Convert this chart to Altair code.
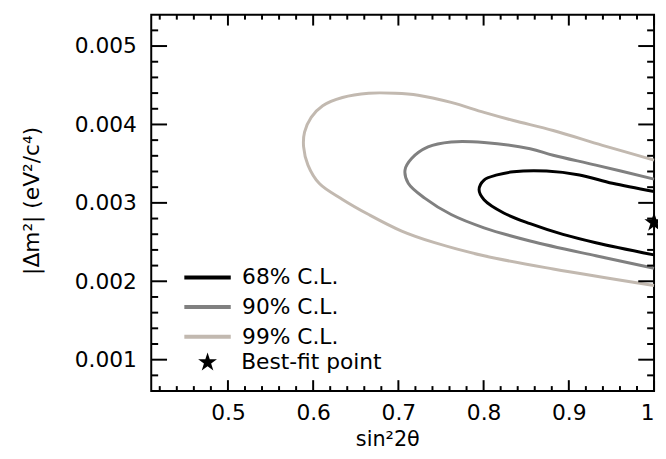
import altair as alt
import pandas as pd

# ---- data ----
levels = ["68% C.L.", "90% C.L.", "99% C.L."]
level_colors = ["#000000", "#808080", "#c2b9b0"]

x68 = [1.0, 0.9511, 0.9125, 0.8738, 0.835, 0.8159, 0.8005, 0.7947, 0.8005, 0.8236, 0.8546, 0.8931, 0.9317, 1.0]
y68 = [0.003145, 0.00325, 0.003356, 0.003406, 0.003397, 0.003356, 0.00329, 0.003166, 0.00304, 0.002871, 0.002735, 0.002598, 0.002492, 0.002337]

x90 = [1.0, 0.9317, 0.8816, 0.8546, 0.8005, 0.7619, 0.7348, 0.7155, 0.7078, 0.7116, 0.7309, 0.7619, 0.8005, 0.8546, 0.9317, 1.0]
y90 = [0.003303, 0.003482, 0.003608, 0.003691, 0.00377, 0.003776, 0.003713, 0.003565, 0.003419, 0.00325, 0.00306, 0.002851, 0.002682, 0.002514, 0.002325, 0.002167]

x99 = [1.0, 0.9395, 0.8816, 0.835, 0.8005, 0.7619, 0.7232, 0.6962, 0.6652, 0.6344, 0.6112, 0.5977, 0.5899, 0.5888, 0.5939, 0.6073, 0.6344, 0.6652, 0.7039, 0.7425, 0.8005, 0.8816, 1.0]
y99 = [0.003545, 0.003734, 0.003923, 0.00405, 0.004154, 0.004281, 0.004373, 0.004398, 0.004398, 0.004344, 0.004239, 0.004091, 0.003902, 0.003713, 0.003482, 0.003246, 0.003044, 0.002851, 0.00264, 0.002492, 0.002325, 0.002157, 0.001946]

best_fit_label = ["Best-fit point"]
best_fit_x = [1.0]
best_fit_y = [0.00275]

x_major = [0.5, 0.6, 0.7, 0.8, 0.9, 1.0]
x_minor = [0.42, 0.44, 0.46, 0.48, 0.52, 0.54, 0.56, 0.58, 0.62, 0.64, 0.66, 0.68,
           0.72, 0.74, 0.76, 0.78, 0.82, 0.84, 0.86, 0.88, 0.92, 0.94, 0.96, 0.98]
y_major = [0.001, 0.002, 0.003, 0.004, 0.005]
y_minor = [0.0008, 0.0012, 0.0014, 0.0016, 0.0018, 0.0022, 0.0024, 0.0026, 0.0028,
           0.0032, 0.0034, 0.0036, 0.0038, 0.0042, 0.0044, 0.0046, 0.0048, 0.0052]

# ---- build tables ----
rows = []
for lvl, xs, ys in zip(levels, [x68, x90, x99], [y68, y90, y99]):
    for i, (a, b) in enumerate(zip(xs, ys)):
        rows.append({"level": lvl, "x": a, "y": b, "order": i})
contours = pd.DataFrame(rows)
star_df = pd.DataFrame({"label": best_fit_label, "x": best_fit_x, "y": best_fit_y})

W, H = 509, 381
FONT = "DejaVu Sans"
STAR = ("M0,-1L0.2245,-0.309L0.9511,-0.309L0.3633,0.118L0.5878,0.809L0,0.382"
        "L-0.5878,0.809L-0.3633,0.118L-0.9511,-0.309L-0.2245,-0.309Z")

xscale = alt.Scale(domain=[0.41, 1.0], nice=False, zero=False)
yscale = alt.Scale(domain=[0.0006, 0.0054], nice=False, zero=False)

x_axis = alt.Axis(values=x_major, labelExpr="datum.value == 1 ? '1' : format(datum.value, '.1f')",
                  labelFontSize=22, labelPadding=12, labelOverlap=False, labelFlush=True,
                  title="sin²2θ", titleFontSize=21, titleFontWeight="normal",
                  titleX=239, titleY=55, titleBaseline="alphabetic", titleAlign="center")
y_axis = alt.Axis(values=y_major, format=".3f", labelFontSize=22, labelPadding=15,
                  labelOverlap=False, labelFlush=False,
                  title="|Δm²| (eV²/c⁴)", titleFontSize=22, titleFontWeight="normal",
                  titleX=-114, titleY=188, titleAngle=-90, titleBaseline="alphabetic",
                  titleAlign="center")

X = alt.X("x:Q", scale=xscale, axis=x_axis)
Y = alt.Y("y:Q", scale=yscale, axis=y_axis)

lines = alt.Chart(contours).mark_line(strokeWidth=3, interpolate="catmull-rom").encode(
    x=X,
    y=Y,
    color=alt.Color("level:N", scale=alt.Scale(domain=levels, range=level_colors),
                    legend=alt.Legend(title=None, orient="none", legendX=46, legendY=255,
                                      symbolType="M-4.7,0H4.7", symbolSize=100,
                                      symbolStrokeWidth=4, labelOffset=24, rowPadding=8)),
    order="order:Q",
)

star = alt.Chart(star_df).mark_point(filled=True, size=420, opacity=1, color="black").encode(
    x=X,
    y=Y,
    shape=alt.Shape("label:N", scale=alt.Scale(domain=best_fit_label, range=[STAR]),
                    legend=alt.Legend(title=None, orient="none", legendX=46, legendY=341,
                                      symbolSize=400, labelOffset=23,
                                      symbolFillColor="black", symbolStrokeColor="black")),
)


def xticks(vals, length):
    d = pd.DataFrame({"x": vals})
    bottom = alt.Chart(d).mark_rule(color="black", strokeWidth=2).encode(
        x=X, y=alt.value(H), y2=alt.value(H - length))
    top = alt.Chart(d).mark_rule(color="black", strokeWidth=2).encode(
        x=X, y=alt.value(0), y2=alt.value(length))
    return [bottom, top]


def yticks(vals, length):
    d = pd.DataFrame({"y": vals})
    left = alt.Chart(d).mark_rule(color="black", strokeWidth=2).encode(
        y=Y, x=alt.value(0), x2=alt.value(length))
    right = alt.Chart(d).mark_rule(color="black", strokeWidth=2).encode(
        y=Y, x=alt.value(W), x2=alt.value(W - length))
    return [left, right]


tick_layers = xticks(x_major, 11) + xticks(x_minor, 5) + yticks(y_major, 16) + yticks(y_minor, 7)

chart = alt.layer(lines, star, *tick_layers).properties(
    width=W, height=H,
    autosize=alt.AutoSizeParams(type="none"),
    padding={"left": 145, "top": 4, "right": 4, "bottom": 64},
).configure_view(stroke="black", strokeWidth=2).configure_axis(
    labelFont=FONT, titleFont=FONT, labelColor="black", titleColor="black",
    grid=False, domain=False, ticks=False,
).configure_legend(
    labelFont=FONT, labelFontSize=22, labelColor="black", padding=0, labelLimit=300,
)

chart.save("out.html", embed_options={"renderer": "svg", "actions": False})
